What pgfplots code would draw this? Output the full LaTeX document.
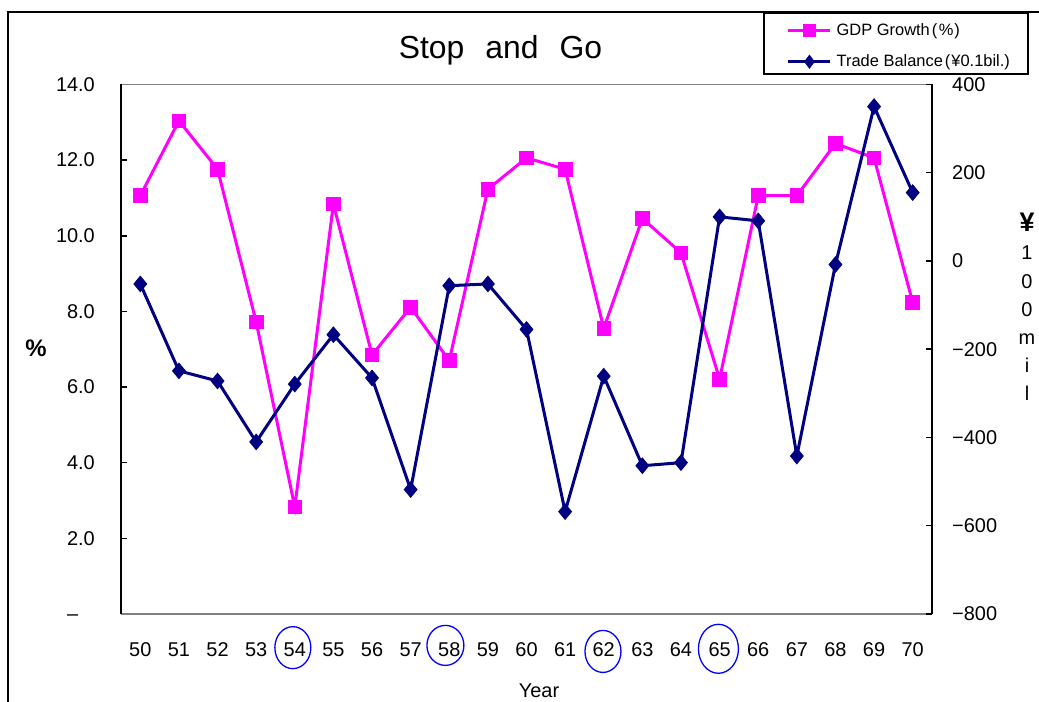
\documentclass[border=0pt]{standalone}
\usepackage{fontspec}
\setmainfont{Liberation Sans}
\usepackage{pgfplots}
\usepackage{pgfplotstable}
\pgfplotsset{compat=1.18}

\definecolor{gdpmag}{RGB}{255,0,255}
\definecolor{tbnavy}{RGB}{0,0,128}
\definecolor{ringblue}{RGB}{0,0,255}
\definecolor{framegray}{RGB}{128,128,128}

% Japan, 1950-1970: real GDP growth (%) and trade balance (0.1 bil. yen)
\pgfplotstableread{
year gdp   tb
50   11.06  -52
51   13.04 -249
52   11.76 -272
53    7.72 -410
54    2.83 -279
55   10.84 -167
56    6.85 -265
57    8.11 -518
58    6.70  -56
59   11.23  -52
60   12.06 -155
61   11.76 -568
62    7.55 -261
63   10.46 -464
64    9.55 -457
65    6.21  100
66   11.06   91
67   11.06 -442
68   12.44   -8
69   12.06  350
70    8.24  155
}\datatable

\newcommand{\ticklabelfont}{\fontsize{20}{24}\selectfont}

\pgfplotsset{
  frame/.style={
    scale only axis, width=811bp, height=529.5bp,
    at={(121bp,88bp)}, anchor=south west,
    xmin=49.5, xmax=70.5,
    tick align=inside, major tick length=6bp,
  },
  gdpstyle/.style={gdpmag, line width=3bp, mark=square*, mark size=6.8bp,
    mark options={solid, line width=0.8bp}},
  tbstyle/.style={tbnavy, line width=3bp, mark=diamond*, mark size=7.8bp,
    mark options={solid, line width=0.8bp, xscale=1.1}},
}

\begin{document}
\begin{tikzpicture}
\useasboundingbox (0,0) rectangle (1039bp,702bp);
% chart border
\draw[line width=2bp] (8bp,690bp) rectangle (1080bp,-30bp);
% legend box
\draw[line width=1.3bp, fill=white] (764bp,689bp) rectangle (1028bp,628bp);

% title and axis titles
\node[anchor=base, font=\fontsize{32}{36}\selectfont] at (500.5bp,643bp)
  {Stop\hspace{21bp}and\hspace{21bp}Go};
\node[font=\bfseries\fontsize{24}{28}\selectfont] at (36bp,354bp) {\%};
\node[anchor=base, font=\fontsize{20}{24}\selectfont] at (539bp,5bp) {Year};
\node[anchor=base, font=\bfseries\fontsize{27}{30}\selectfont] at (1027bp,470bp) {¥};
\begin{scope}[every node/.style={anchor=base, font=\fontsize{20}{24}\selectfont}]
  \node at (1027bp,442bp) {1};
  \node at (1027bp,413bp) {0};
  \node at (1027bp,385bp) {0};
  \node at (1027bp,357bp) {m};
  \node at (1027bp,329bp) {i};
  \node at (1027bp,301bp) {l};
\end{scope}

% left axis: GDP growth
\begin{axis}[
  frame, clip=false,
  ymin=0, ymax=14,
  axis x line*=box, axis y line*=left,
  separate axis lines,
  x axis line style={draw=framegray, line width=1.5bp},
  y axis line style={draw=black, line width=1.5bp},
  xtick={50,...,70}, xtick style={draw=none},
  ytick={0,2,...,14},
  yticklabels={--\phantom{.0},2.0,4.0,6.0,8.0,10.0,12.0,14.0},
  ytick style={black, line width=1.5bp},
  /pgf/number format/assume math mode=true,
  /pgf/number format/1000 sep={},
  xticklabel style={font=\ticklabelfont, anchor=center, inner sep=0pt, yshift=-36bp},
  yticklabel style={font=\ticklabelfont, anchor=east, inner sep=0pt, xshift=-26bp},
]
\addplot[gdpstyle] table[x=year, y=gdp] {\datatable};
% recession years
\draw[ringblue, line width=1.3bp] (axis cs:53.95,-0.89) ellipse [x radius=18bp, y radius=21bp];
\draw[ringblue, line width=1.3bp] (axis cs:57.9,-0.83) ellipse [x radius=18.5bp, y radius=20bp];
\draw[ringblue, line width=1.3bp] (axis cs:61.98,-0.99) ellipse [x radius=18bp, y radius=21bp];
\draw[ringblue, line width=1.3bp] (axis cs:64.97,-0.92) ellipse [x radius=20bp, y radius=24.5bp];
\end{axis}

% right axis: trade balance
\begin{axis}[
  frame,
  ymin=-800, ymax=400,
  axis x line=none, axis y line*=right,
  y axis line style={draw=black, line width=1.5bp},
  ytick={-800,-600,...,400},
  yticklabels={−800,−600,−400,−200,0,200,400},
  ytick style={black, line width=1.5bp},
  yticklabel style={font=\ticklabelfont, anchor=west, inner sep=0pt, xshift=20bp},
  legend cell align=left,
  legend image code/.code={%
    \draw[mark repeat=2, mark phase=2, #1, line width=2.5bp,
      mark options={solid, line width=0.6bp, scale=0.85}]
      plot coordinates {(0bp,0bp) (21bp,0bp) (42bp,0bp)};},
  legend style={draw=none, fill=none, inner sep=0pt,
    at={(0.8212,1.0727)}, anchor=west,
    nodes={inner sep=0pt, text depth=0.2em},
    row sep=17.5bp, /tikz/column sep=5bp,
    font=\fontsize{16.5}{19}\selectfont},
]
\addlegendimage{gdpstyle}
\addlegendentry{GDP Growth\kern2bp(\kern1.5bp\%\kern1bp)}
\addplot[tbstyle] table[x=year, y=tb] {\datatable};
\addlegendentry{Trade Balance\kern2bp(\kern1bp¥0.1bil.)}
\end{axis}
\end{tikzpicture}
\end{document}
